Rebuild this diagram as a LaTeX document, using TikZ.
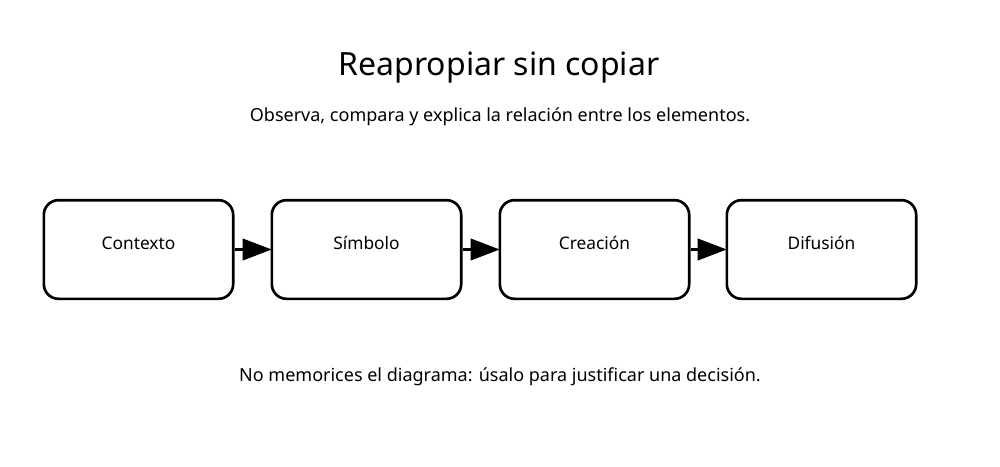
\documentclass[tikz,border=0pt]{standalone}
\usepackage{fontspec}
\setmainfont{Noto Sans}
\usetikzlibrary{arrows.meta}
\begin{document}
\begin{tikzpicture}[x=0.75pt,y=-0.75pt,
  box/.style={draw,line width=2pt,rounded corners=11pt,minimum width=142pt,minimum height=74pt,inner sep=0pt},
  lbl/.style={font=\fontsize{13}{15}\selectfont},
  arr/.style={line width=2.5pt,-{Triangle[length=22pt,width=16pt]},shorten >=-1pt}]
\useasboundingbox (0,0) rectangle (1000,467);
\node[font=\fontsize{24}{28}\bfseries] (t) at (499,68) {Reapropiar sin copiar};
\node[font=\fontsize{13.5}{16}\selectfont] (s) at (500,117) {Observa, compara y explica la relación entre los elementos.};
\node[box] (a) at (138.5,249.5) {};
\node[box] (b) at (366.5,249.5) {};
\node[box] (c) at (594.5,249.5) {};
\node[box] (d) at (821.5,249.5) {};
\node[lbl] at (138.5,243) {Contexto};
\node[lbl] at (366.5,243) {Símbolo};
\node[lbl] at (594.5,243) {Creación};
\node[lbl] at (821.5,243) {Difusión};
\draw[arr] (a.east) -- (b.west);
\draw[arr] (b.east) -- (c.west);
\draw[arr] (c.east) -- (d.west);
\node[font=\fontsize{13.5}{16}\selectfont] (f) at (500,377) {No memorices el diagrama: úsalo para justificar una decisión.};
\end{tikzpicture}
\end{document}
